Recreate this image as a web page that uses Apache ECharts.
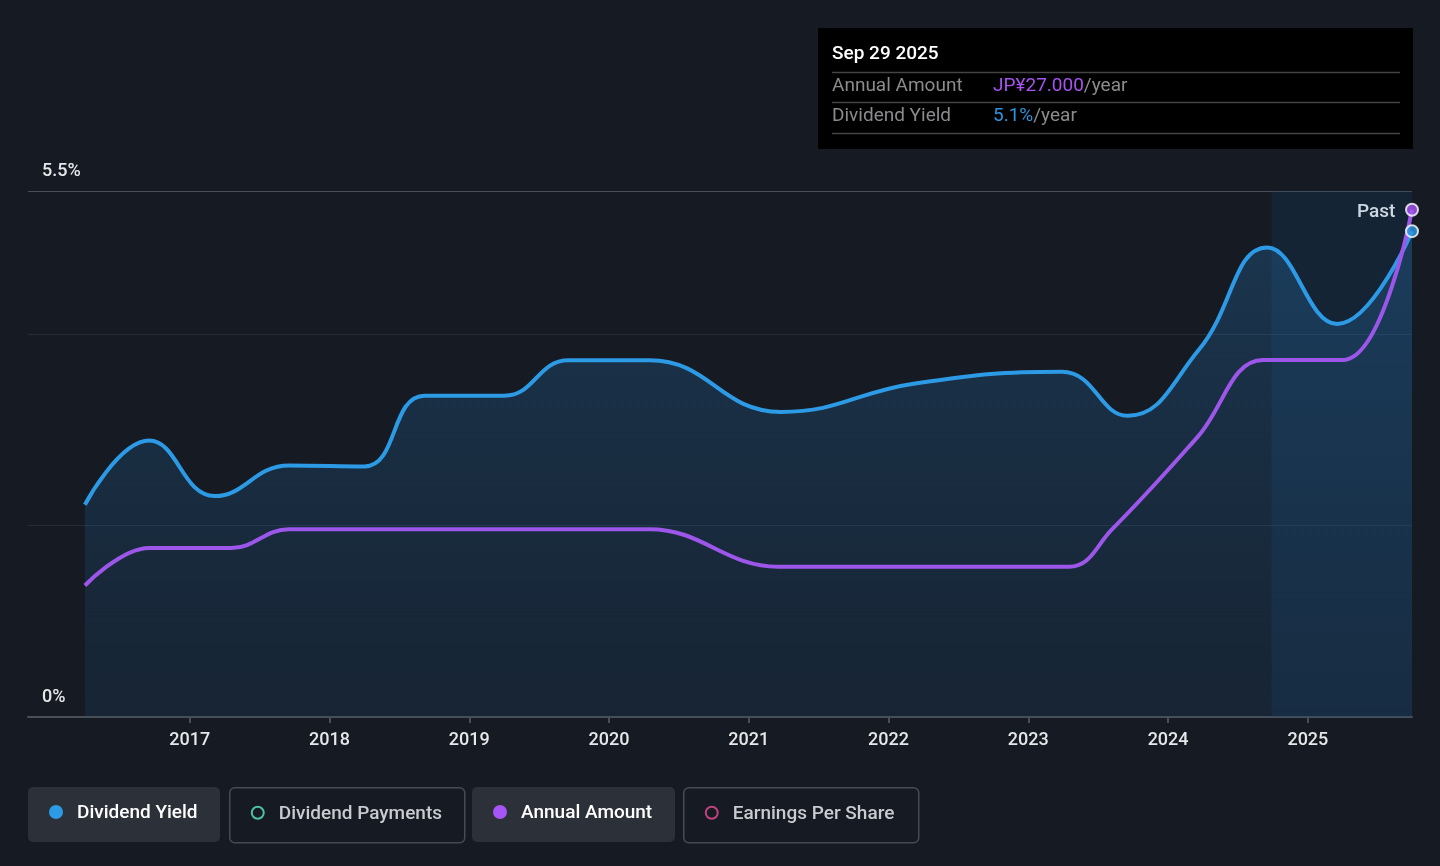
<!DOCTYPE html>
<html>
<head>
<meta charset="utf-8">
<script src="https://cdn.jsdelivr.net/npm/echarts@6/dist/echarts.min.js"></script>
<style>
html,body{margin:0;padding:0;background:#151a23;}
#c{width:1440px;height:866px;}
</style>
</head>
<body>
<div id="c"></div>
<script>
// Data (decimal years)
const yieldDates = [2016.25, 2016.71, 2017.18, 2017.71, 2018.25, 2018.68, 2019.25, 2019.71, 2020.29, 2021.23, 2022.2, 2023.24, 2023.71, 2024.22, 2024.71, 2025.21, 2025.745];
const yieldValues = [2.22, 2.89, 2.31, 2.63, 2.62, 3.36, 3.36, 3.73, 3.73, 3.19, 3.49, 3.61, 3.15, 3.84, 4.91, 4.11, 5.08];
const amountDates = [2016.25, 2016.71, 2017.3, 2017.71, 2020.29, 2021.21, 2023.29, 2023.6, 2024.21, 2024.68, 2025.25, 2025.745];
const amountValues = [7, 9, 9, 10, 10, 8, 8, 10.0, 14.9, 19, 19, 27];
const yearTicks = [2017, 2018, 2019, 2020, 2021, 2022, 2023, 2024, 2025];
const yTickLabels = {0: '0%', 5.5: '5.5%'};
const pastStart = 2024.74;
const legendItems = ['Dividend Yield', 'Dividend Payments', 'Annual Amount', 'Earnings Per Share'];

const BLUE = '#2d9ae6';
const PURPLE = '#9d56ea';
const FONT = 'Roboto, "Noto Sans", sans-serif';

const yieldData = yieldDates.map((d, i) => [d, yieldValues[i]]);
const amountData = amountDates.map((d, i) => [d, amountValues[i]]);

const chart = echarts.init(document.getElementById('c'));

function legendButton(x, w, active, label, color, filled) {
  return {
    type: 'group', left: x, top: 787,
    children: [
      {type: 'rect', shape: {x: 0, y: 0, width: w, height: 55, r: 5},
       style: active ? {fill: '#2c3038'} : {fill: '#151a23', stroke: '#464b53', lineWidth: 1.5}},
      {type: 'circle', shape: {cx: 28, cy: 25, r: filled ? 7 : 6},
       style: filled ? {fill: color} : {fill: 'none', stroke: color, lineWidth: 2}},
      {type: 'text', x: 49, y: 26, style: {text: label, fill: active ? '#ffffff' : '#c9cbce', font: '500 19px ' + FONT, verticalAlign: 'middle'}}
    ]
  };
}

const option = {
  backgroundColor: '#151a23',
  animation: false,
  grid: {left: 28, right: 28, top: 191, bottom: 149},
  xAxis: {
    type: 'value', min: 2015.843, max: 2025.745,
    axisLine: {lineStyle: {color: '#4a4f57', width: 2}},
    axisTick: {show: true, customValues: yearTicks, length: 6, lineStyle: {color: '#4a4f57', width: 2}},
    axisLabel: {customValues: yearTicks, color: '#e6e7e9', fontSize: 18, fontWeight: 500, fontFamily: FONT, margin: 14, formatter: v => String(Math.round(v))},
    splitLine: {show: false}
  },
  yAxis: [{
    type: 'value', min: 0, max: 5.5, interval: 2,
    axisLine: {show: false}, axisTick: {show: false},
    axisLabel: {inside: true, margin: 14, verticalAlign: 'bottom', padding: [0, 0, 11, 0], color: '#e6e7e9', fontSize: 18, fontWeight: 500, fontFamily: FONT,
      formatter: v => (yTickLabels[v] !== undefined ? yTickLabels[v] : '')},
    splitLine: {show: true, lineStyle: {color: ['#4a4f57', '#272d36', '#272d36', '#4a4f57'], width: 1}}
  }, {
    type: 'value', min: 0, max: 28, show: false, splitLine: {show: false}
  }],
  graphic: [
    {type: 'rect', left: 818, top: 28, shape: {width: 595, height: 121}, style: {fill: '#000000'}},
    {type: 'text', left: 832, top: 45, style: {text: 'Sep 29 2025', fill: '#ffffff', font: '500 19px ' + FONT}},
    {type: 'line', shape: {x1: 832, y1: 72.5, x2: 1400, y2: 72.5}, style: {stroke: '#444', lineWidth: 1.5}},
    {type: 'line', shape: {x1: 832, y1: 102.5, x2: 1400, y2: 102.5}, style: {stroke: '#444', lineWidth: 1.5}},
    {type: 'line', shape: {x1: 832, y1: 133.5, x2: 1400, y2: 133.5}, style: {stroke: '#444', lineWidth: 1.5}},
    {type: 'text', left: 832, top: 77, style: {text: 'Annual Amount', fill: '#8a8b8d', font: '19px ' + FONT}},
    {type: 'text', left: 993, top: 77, style: {text: '{v|JP¥27.000}{u|/year}', rich: {v: {fill: '#a653ef', font: '19px ' + FONT}, u: {fill: '#8a8b8d', font: '19px ' + FONT}}}},
    {type: 'text', left: 832, top: 107, style: {text: 'Dividend Yield', fill: '#8a8b8d', font: '19px ' + FONT}},
    {type: 'text', left: 993, top: 107, style: {text: '{v|5.1%}{u|/year}', rich: {v: {fill: '#2e95dd', font: '19px ' + FONT}, u: {fill: '#8a8b8d', font: '19px ' + FONT}}}},
    {type: 'text', left: 1357, top: 203, style: {text: 'Past', fill: '#ffffff', font: '500 19px ' + FONT}},
    legendButton(28, 192, true, legendItems[0], '#2d9ae6', true),
    legendButton(229, 235, false, legendItems[1], '#4fc3a1', false),
    legendButton(472, 203, true, legendItems[2], '#a855f7', true),
    legendButton(683, 235, false, legendItems[3], '#c2437f', false)
  ],
  series: [{
    type: 'line', name: 'Dividend Yield', data: yieldData, yAxisIndex: 0,
    smooth: 0.45, showSymbol: false,
    lineStyle: {color: BLUE, width: 4},
    areaStyle: {color: new echarts.graphic.LinearGradient(0, 0, 0, 1, [
      {offset: 0, color: 'rgba(40,120,185,0.42)'},
      {offset: 1, color: 'rgba(30,75,115,0.3)'}
    ])},
    markArea: {silent: true, itemStyle: {color: 'rgba(25,75,120,0.22)'}, data: [[{xAxis: pastStart}, {xAxis: 2025.745}]]},
    z: 3
  }, {
    type: 'line', name: 'Annual Amount', data: amountData, yAxisIndex: 1,
    smooth: 0.4, showSymbol: false,
    lineStyle: {color: PURPLE, width: 4},
    z: 4
  }, {
    type: 'scatter', data: [yieldData[yieldData.length - 1]], yAxisIndex: 0,
    symbolSize: 12, itemStyle: {color: BLUE, borderColor: '#ffffff', borderWidth: 2}, z: 6
  }, {
    type: 'scatter', data: [amountData[amountData.length - 1]], yAxisIndex: 1,
    symbolSize: 12, itemStyle: {color: '#a855f7', borderColor: '#ffffff', borderWidth: 2}, z: 6
  }]
};
chart.setOption(option);
</script>
</body>
</html>
